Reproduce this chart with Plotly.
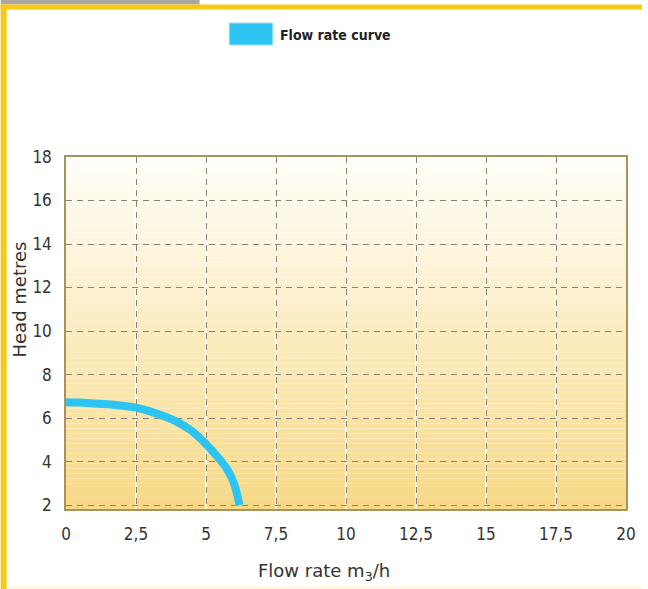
import plotly.graph_objects as go

# ---- data ----
flow_rate = [0, 0.5, 1.0, 1.5, 2.0, 2.5, 3.0, 3.5, 4.0, 4.5, 5.0, 5.5, 5.75, 6.0, 6.1, 6.2]
head = [6.73, 6.71, 6.67, 6.63, 6.57, 6.48, 6.31, 6.08, 5.8, 5.4, 4.8, 4.08, 3.65, 3.0, 2.55, 2.0]
x_ticks = [0, 2.5, 5, 7.5, 10, 12.5, 15, 17.5, 20]
x_tick_labels = ["0", "2,5", "5", "7,5", "10", "12,5", "15", "17,5", "20"]
y_ticks = [2, 4, 6, 8, 10, 12, 14, 16, 18]
series_name = "Flow rate curve"
x_title = "Flow rate m<sub>3</sub>/h"
y_title = "Head metres"

W, H = 648, 589
L, R, T, B = 66, 16, 157, 80
PW, PH = W - L - R, H - T - B

def px(x):
    return (x - L) / PW

def py(y):
    return (H - B - y) / PH

fig = go.Figure()
fig.add_trace(go.Scatter(
    x=flow_rate, y=head, mode="lines", name=series_name,
    line=dict(color="#2EC4F1", width=8, shape="spline", smoothing=0.5),
    showlegend=False, hoverinfo="skip",
))

shapes = []
# gradient background
n = 70
c0 = (255, 254, 250)
c1 = (247, 217, 135)
for i in range(n):
    t = (i + 0.5) / n
    c = tuple(round(c0[k] + (c1[k] - c0[k]) * t) for k in range(3))
    shapes.append(dict(type="rect", xref="x domain", yref="y domain",
                       x0=0, x1=1, y0=1 - (i + 1) / n, y1=1 - i / n,
                       fillcolor="rgb(%d,%d,%d)" % c, line=dict(width=0), layer="below"))
# white underlay of vertical gridlines
for xv in x_ticks[1:-1]:
    shapes.append(dict(type="line", xref="x", yref="y domain", x0=xv, x1=xv, y0=0, y1=1,
                       line=dict(color="white", width=1.6), layer="below"))
# frame decorations
shapes.append(dict(type="rect", xref="paper", yref="paper", x0=px(0), x1=px(201), y0=py(0), y1=py(4.5),
                   fillcolor="#ABA7A0", line=dict(width=0), layer="above"))
shapes.append(dict(type="rect", xref="paper", yref="paper", x0=px(0), x1=px(W), y0=py(4.5), y1=py(9.5),
                   fillcolor="#F7C815", line=dict(width=0), layer="above"))
shapes.append(dict(type="rect", xref="paper", yref="paper", x0=px(0), x1=px(6), y0=py(H), y1=py(4.5),
                   fillcolor="#F7C815", line=dict(width=0), layer="above"))
shapes.append(dict(type="rect", xref="paper", yref="paper", x0=px(6), x1=px(W), y0=py(H), y1=py(586),
                   fillcolor="#FFF7DF", line=dict(width=0), layer="above"))
# legend swatch
shapes.append(dict(type="rect", xref="paper", yref="paper", x0=px(231), x1=px(275), y0=py(45), y1=py(23),
                   fillcolor="#2EC4F1", line=dict(color="#9FE0F7", width=1), layer="above"))

narrow = "DejaVu Sans Condensed, Liberation Sans Narrow, Roboto, sans-serif"
title_font = dict(family="DejaVu Sans, sans-serif", size=18, color="#333333")
annotations = [
    dict(text="<b>" + series_name + "</b>", xref="paper", yref="paper", x=px(280), y=py(35),
         xanchor="left", yanchor="middle", showarrow=False,
         font=dict(family=narrow, size=14, color="#222222")),
    dict(text=x_title, xref="paper", yref="paper", x=px(327), y=py(572),
         xanchor="center", yanchor="middle", showarrow=False, font=title_font),
    dict(text=y_title, xref="paper", yref="paper", x=px(19), y=py(299), textangle=-90,
         xanchor="center", yanchor="middle", showarrow=False, font=title_font),
]

grid_color = "#8A8272"
fig.update_layout(
    width=W, height=H,
    margin=dict(l=L, r=R, t=T, b=B, pad=0),
    paper_bgcolor="white", plot_bgcolor="white",
    shapes=shapes, annotations=annotations,
    xaxis=dict(
        range=[0, 20], tickvals=x_ticks, ticktext=x_tick_labels,
        showgrid=True, gridcolor=grid_color, griddash="6px,5px", gridwidth=1.1,
        showline=True, linecolor="#A8925E", linewidth=1.5, mirror=True,
        ticks="", ticklabelstandoff=9, zeroline=False,
        tickfont=dict(family=narrow, size=17, color="#333333"),
    ),
    yaxis=dict(
        range=[1.82, 18], tickvals=y_ticks,
        showgrid=True, gridcolor=grid_color, griddash="6px,5px", gridwidth=1.1,
        showline=True, linecolor="#A8925E", linewidth=1.5, mirror=True,
        ticks="", ticklabelstandoff=9, zeroline=False,
        tickfont=dict(family=narrow, size=17, color="#333333"),
    ),
)

fig.write_html(
    "out.html",
    config={"displayModeBar": False},
    post_script="document.body.style.margin='0';document.body.style.padding='0';"
                "document.documentElement.style.overflow='hidden';",
)
